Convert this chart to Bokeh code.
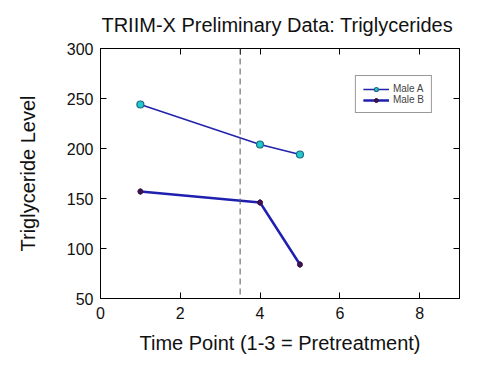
from bokeh.plotting import figure
from bokeh.models import Range1d, LinearAxis, Span, Whisker, ColumnDataSource, FixedTicker, Legend
from bokeh.embed import file_html
from bokeh.resources import INLINE

time_a = [1, 4, 5]
male_a = [244, 204, 194]
time_b = [1, 4, 5]
male_b = [157, 146, 84]
err_b = [3, 3, 3]
x_ticks = [0, 2, 4, 6, 8]
y_ticks = [50, 100, 150, 200, 250, 300]
pretreat_line = 3.5

FONT = "Liberation Sans"

p = figure(width=482, height=357, output_backend="svg", toolbar_location=None,
           x_range=Range1d(0, 9), y_range=Range1d(50, 300),
           min_border_left=100, min_border_right=23, min_border_top=48, min_border_bottom=59,
           title="TRIIM-X Preliminary Data:  Triglycerides")
p.title.text_font = FONT
p.title.text_font_size = "20px"
p.title.text_font_style = "normal"
p.title.align = "center"
p.title.vertical_align = "top"
p.title.text_color = "#111111"
p.title.standoff = 22
p.xgrid.visible = False
p.ygrid.visible = False
p.outline_line_color = "black"
p.outline_line_width = 1

for ax in (p.xaxis[0], p.yaxis[0]):
    ax.major_tick_in = 6
    ax.major_tick_out = 0
    ax.minor_tick_line_color = None
    ax.major_label_text_font = FONT
    ax.major_label_text_font_size = "16px"
    ax.major_label_text_color = "#111111"
    ax.axis_label_text_font = FONT
    ax.axis_label_text_font_size = "20px"
    ax.axis_label_text_font_style = "normal"
    ax.axis_label_text_color = "#111111"
    ax.axis_line_color = "black"

p.xaxis[0].ticker = FixedTicker(ticks=x_ticks)
p.yaxis[0].ticker = FixedTicker(ticks=y_ticks)
p.xaxis[0].axis_label = "Time Point (1-3 = Pretreatment)"
p.yaxis[0].axis_label = "Triglyceride Level"
p.xaxis[0].major_label_standoff = 8
p.xaxis[0].axis_label_standoff = 10
p.yaxis[0].major_label_standoff = 7
p.yaxis[0].axis_label_standoff = 25

top_ticks = x_ticks + [pretreat_line]
top = LinearAxis(ticker=FixedTicker(ticks=top_ticks),
                 major_label_overrides={t: "" for t in top_ticks},
                 major_tick_in=6, major_tick_out=0, minor_tick_line_color=None,
                 major_label_standoff=0)
right = LinearAxis(ticker=FixedTicker(ticks=y_ticks),
                   major_label_overrides={t: "" for t in y_ticks},
                   major_tick_in=6, major_tick_out=0, minor_tick_line_color=None,
                   major_label_standoff=0)
p.add_layout(top, "above")
p.add_layout(right, "right")

p.add_layout(Span(location=pretreat_line, dimension="height", line_color="#555555",
                  line_dash="6 4", line_width=1))

la = p.line(time_a, male_a, line_color="#2222aa", line_width=1.5)
sa = p.scatter(time_a, male_a, size=7, fill_color="#22c8d0", line_color="#1a6a80", line_width=1.2)

src_b = ColumnDataSource(dict(x=time_b, y=male_b,
                              lo=[v - e for v, e in zip(male_b, err_b)],
                              hi=[v + e for v, e in zip(male_b, err_b)]))
lb = p.line("x", "y", source=src_b, line_color="#1f1fb0", line_width=2.5)
p.add_layout(Whisker(source=src_b, base="x", lower="lo", upper="hi", line_color="#301040",
                     line_width=2, upper_head=None, lower_head=None))
sb = p.scatter("x", "y", source=src_b, size=5, fill_color="#401050", line_color="#301040")

legend = Legend(items=[("Male A", [la, sa]), ("Male B", [lb, sb])],
                location="top_right", border_line_color="#333333", border_line_width=1,
                label_text_font=FONT, label_text_font_size="10px", label_height=10,
                glyph_height=10, glyph_width=26, spacing=0, padding=7, margin=27,
                label_standoff=4)
p.add_layout(legend)

open("out.html", "w").write(file_html(p, INLINE))
